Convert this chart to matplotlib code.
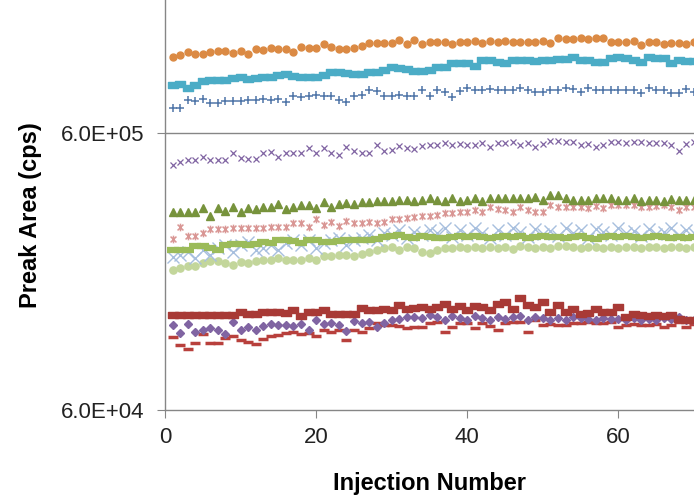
import numpy as np
import matplotlib
matplotlib.use("Agg")
import matplotlib.pyplot as plt
from matplotlib.path import Path
from matplotlib.ticker import FixedLocator, NullLocator

# values in units of 1e5 cps, injections 1..70
injection = np.arange(1, 71)

orange_dots = [11.3, 11.5, 11.8, 11.6, 11.6, 11.8, 11.9, 11.9, 11.7, 11.9,
               11.55, 12.05, 11.96, 12.2, 12.05, 12.05, 11.8, 12.3, 12.2, 12.2,
               12.55, 12.25, 12.05, 12.05, 12.2, 12.35, 12.65, 12.65, 12.65, 12.65,
               13.0, 12.55, 13.0, 12.55, 12.8, 12.8, 12.75, 12.55, 12.8, 12.8,
               12.9, 12.65, 12.9, 12.8, 12.9, 12.8, 12.75, 12.75, 12.8, 12.9,
               12.65, 13.2, 13.1, 13.1, 13.2, 13.1, 13.2, 13.2, 12.8, 12.8,
               12.8, 12.9, 12.45, 12.75, 12.8, 12.55, 12.65, 12.65, 12.55, 12.75]
teal_squares = [8.94, 9.01, 8.70, 8.94, 9.27, 9.32, 9.32, 9.32, 9.44, 9.57,
                9.39, 9.44, 9.57, 9.57, 9.71, 9.78, 9.65, 9.52, 9.52, 9.52,
                9.71, 9.94, 9.94, 9.89, 9.76, 9.76, 9.94, 9.97, 10.13, 10.4,
                10.27, 10.21, 10.02, 10.05, 10.13, 10.4, 10.4, 10.7, 10.7, 10.7,
                10.5, 11.0, 11.0, 10.8, 10.7, 11.0, 11.0, 11.0, 10.9, 11.0,
                11.0, 11.1, 11.1, 11.3, 11.0, 11.0, 10.8, 10.85, 11.15, 11.3,
                11.15, 11.0, 10.85, 11.3, 11.15, 11.15, 10.7, 11.0, 10.95, 10.95]
blue_plus = [7.37, 7.37, 7.90, 7.85, 7.95, 7.69, 7.69, 7.85, 7.85, 7.85,
             7.90, 7.90, 7.95, 7.90, 7.95, 7.77, 8.18, 8.08, 8.13, 8.23,
             8.13, 8.18, 7.90, 7.77, 8.18, 8.23, 8.58, 8.51, 8.18, 8.18,
             8.23, 8.18, 8.18, 8.58, 8.18, 8.58, 8.46, 8.08, 8.51, 8.71,
             8.58, 8.58, 8.66, 8.58, 8.58, 8.58, 8.71, 8.58, 8.46, 8.46,
             8.58, 8.58, 8.71, 8.66, 8.46, 8.71, 8.58, 8.58, 8.58, 8.58,
             8.58, 8.58, 8.39, 8.71, 8.58, 8.58, 8.35, 8.35, 8.66, 8.46]
purple_x = [4.59, 4.73, 4.79, 4.79, 4.92, 4.79, 4.79, 4.81, 5.07, 4.88,
            4.84, 4.84, 5.10, 5.14, 4.92, 5.07, 5.07, 5.07, 5.29, 5.10,
            5.29, 5.07, 5.00, 5.33, 5.18, 5.10, 5.10, 5.43, 5.18, 5.21,
            5.38, 5.29, 5.24, 5.40, 5.43, 5.43, 5.52, 5.43, 5.48, 5.43,
            5.43, 5.52, 5.35, 5.52, 5.52, 5.59, 5.43, 5.52, 5.35, 5.48,
            5.63, 5.63, 5.59, 5.59, 5.43, 5.48, 5.33, 5.43, 5.59, 5.59,
            5.52, 5.59, 5.59, 5.54, 5.52, 5.52, 5.43, 5.18, 5.48, 5.59]
olive_triangles = [3.12, 3.12, 3.12, 3.12, 3.21, 3.01, 3.21, 3.14, 3.24, 3.12,
                   3.21, 3.18, 3.24, 3.24, 3.33, 3.18, 3.24, 3.30, 3.30, 3.21,
                   3.37, 3.24, 3.33, 3.35, 3.33, 3.37, 3.37, 3.40, 3.40, 3.40,
                   3.44, 3.44, 3.40, 3.44, 3.49, 3.44, 3.42, 3.49, 3.42, 3.44,
                   3.49, 3.40, 3.49, 3.49, 3.49, 3.49, 3.49, 3.49, 3.53, 3.44,
                   3.58, 3.58, 3.49, 3.44, 3.44, 3.44, 3.49, 3.49, 3.49, 3.44,
                   3.44, 3.49, 3.42, 3.44, 3.44, 3.42, 3.46, 3.44, 3.44, 3.44]
pink_stars = [2.48, 2.75, 2.55, 2.55, 2.62, 2.70, 2.70, 2.70, 2.72, 2.72,
              2.72, 2.72, 2.72, 2.74, 2.75, 2.75, 2.83, 2.83, 2.75, 2.93,
              2.79, 2.87, 2.77, 2.89, 2.85, 2.85, 2.87, 2.83, 2.87, 2.93,
              2.93, 2.95, 2.98, 3.01, 3.01, 3.04, 3.08, 3.08, 3.12, 3.12,
              3.16, 3.12, 3.24, 3.18, 3.16, 3.10, 3.24, 3.16, 3.12, 3.12,
              3.30, 3.24, 3.24, 3.24, 3.25, 3.21, 3.27, 3.21, 3.30, 3.30,
              3.30, 3.30, 3.25, 3.25, 3.27, 3.30, 3.25, 3.16, 3.25, 3.25]
lightblue_x = [2.14, 2.18, 2.24, 2.12, 2.27, 2.18, 2.31, 2.37, 2.24, 2.37,
               2.43, 2.27, 2.31, 2.37, 2.27, 2.41, 2.47, 2.37, 2.47, 2.31,
               2.41, 2.47, 2.51, 2.37, 2.47, 2.51, 2.57, 2.47, 2.62, 2.57,
               2.68, 2.51, 2.64, 2.57, 2.68, 2.62, 2.73, 2.53, 2.68, 2.57,
               2.73, 2.62, 2.51, 2.68, 2.57, 2.73, 2.64, 2.53, 2.71, 2.60,
               2.66, 2.55, 2.73, 2.62, 2.68, 2.51, 2.71, 2.64, 2.57, 2.73,
               2.62, 2.66, 2.55, 2.71, 2.60, 2.64, 2.73, 2.57, 2.68, 2.62]
green_bars = [2.26, 2.27, 2.27, 2.34, 2.34, 2.31, 2.27, 2.37, 2.39, 2.39,
              2.37, 2.39, 2.43, 2.41, 2.47, 2.47, 2.45, 2.41, 2.47, 2.47,
              2.43, 2.43, 2.45, 2.47, 2.47, 2.47, 2.47, 2.49, 2.53, 2.55,
              2.57, 2.53, 2.51, 2.55, 2.53, 2.51, 2.51, 2.53, 2.55, 2.53,
              2.55, 2.53, 2.51, 2.53, 2.55, 2.53, 2.55, 2.51, 2.53, 2.55,
              2.53, 2.53, 2.51, 2.53, 2.55, 2.51, 2.49, 2.53, 2.55, 2.53,
              2.55, 2.53, 2.51, 2.53, 2.55, 2.53, 2.51, 2.53, 2.51, 2.53]
pale_green_dots = [1.92, 1.96, 1.99, 1.99, 2.04, 2.07, 2.07, 2.04, 2.00, 2.05,
                   2.04, 2.07, 2.09, 2.09, 2.12, 2.09, 2.09, 2.09, 2.12, 2.09,
                   2.15, 2.15, 2.17, 2.17, 2.15, 2.20, 2.23, 2.26, 2.30, 2.32,
                   2.27, 2.32, 2.30, 2.24, 2.22, 2.27, 2.31, 2.31, 2.33, 2.31,
                   2.33, 2.31, 2.33, 2.31, 2.33, 2.29, 2.35, 2.33, 2.31, 2.33,
                   2.31, 2.35, 2.35, 2.33, 2.31, 2.33, 2.33, 2.31, 2.33, 2.31,
                   2.33, 2.33, 2.31, 2.33, 2.33, 2.31, 2.33, 2.33, 2.31, 2.33]
red_squares = [1.32, 1.32, 1.32, 1.32, 1.32, 1.32, 1.32, 1.32, 1.32, 1.35,
               1.33, 1.33, 1.35, 1.35, 1.35, 1.34, 1.38, 1.31, 1.35, 1.35,
               1.38, 1.33, 1.33, 1.33, 1.33, 1.40, 1.38, 1.38, 1.39, 1.38,
               1.44, 1.39, 1.40, 1.41, 1.39, 1.41, 1.45, 1.39, 1.42, 1.38,
               1.42, 1.41, 1.38, 1.45, 1.47, 1.39, 1.52, 1.44, 1.41, 1.47,
               1.36, 1.44, 1.35, 1.39, 1.33, 1.34, 1.39, 1.36, 1.36, 1.41,
               1.30, 1.33, 1.32, 1.31, 1.32, 1.31, 1.32, 1.28, 1.27, 1.27]
purple_diamonds = [1.22, 1.14, 1.23, 1.15, 1.17, 1.19, 1.17, 1.13, 1.25, 1.17,
                   1.20, 1.17, 1.21, 1.23, 1.22, 1.22, 1.21, 1.23, 1.17, 1.27,
                   1.23, 1.24, 1.22, 1.16, 1.26, 1.24, 1.25, 1.20, 1.24, 1.27,
                   1.28, 1.30, 1.30, 1.29, 1.32, 1.30, 1.27, 1.31, 1.29, 1.27,
                   1.31, 1.29, 1.27, 1.30, 1.28, 1.30, 1.31, 1.27, 1.30, 1.29,
                   1.27, 1.29, 1.27, 1.30, 1.29, 1.28, 1.27, 1.29, 1.28, 1.28,
                   1.27, 1.29, 1.27, 1.28, 1.27, 1.29, 1.28, 1.30, 1.27, 1.27]
red_dashes = [1.10, 1.03, 1.00, 1.05, 1.13, 1.05, 1.05, 1.09, 1.11, 1.07,
              1.06, 1.04, 1.08, 1.11, 1.12, 1.14, 1.15, 1.13, 1.14, 1.11,
              1.17, 1.15, 1.17, 1.07, 1.17, 1.15, 1.19, 1.24, 1.22, 1.22,
              1.21, 1.19, 1.20, 1.20, 1.24, 1.25, 1.15, 1.20, 1.24, 1.24,
              1.19, 1.24, 1.21, 1.17, 1.24, 1.25, 1.25, 1.15, 1.27, 1.22,
              1.23, 1.22, 1.22, 1.24, 1.24, 1.25, 1.24, 1.24, 1.25, 1.20,
              1.22, 1.23, 1.22, 1.22, 1.23, 1.20, 1.22, 1.25, 1.20, 1.23]

y_ticks = [6.0e4, 6.0e5]
y_tick_labels = ['6.0E+04', '6.0E+05']
x_ticks = [0, 20, 40, 60]

plt.rcParams['font.family'] = ['Liberation Sans', 'DejaVu Sans']

# excel-like markers: asterisk (x plus vertical stroke) and wide rectangle
star = Path([(-1, -1), (1, 1), (-1, 1), (1, -1), (0, -1.3), (0, 1.3)],
            [Path.MOVETO, Path.LINETO, Path.MOVETO, Path.LINETO,
             Path.MOVETO, Path.LINETO])
rect = Path([(-1, -0.7), (1, -0.7), (1, 0.7), (-1, 0.7), (-1, -0.7)],
            [Path.MOVETO, Path.LINETO, Path.LINETO, Path.LINETO, Path.CLOSEPOLY])

fig = plt.figure(figsize=(6.94, 4.95), dpi=100)
ax = fig.add_axes([0.2378, 0.1717, 0.7622, 0.8283])

scale = 1e5
series = [
    (pale_green_dots, 'o', '#C3D69B', 5.2, {}),
    (lightblue_x, 'x', '#A7BFDE', 9.0, {'markeredgewidth': 1.0}),
    (green_bars, '_', '#9BBB59', 8.0, {'markeredgewidth': 4.5}),
    (pink_stars, star, '#D99694', 5.5, {'markeredgewidth': 1.1}),
    (olive_triangles, '^', '#77933C', 5.5, {}),
    (purple_x, 'x', '#8064A2', 5.0, {'markeredgewidth': 0.9}),
    (blue_plus, '+', '#4F75A8', 6.0, {'markeredgewidth': 1.1}),
    (teal_squares, rect, '#4BACC6', 7.0, {}),
    (orange_dots, 'o', '#DB8A44', 5.0, {}),
    (red_dashes, '_', '#B8403C', 6.5, {'markeredgewidth': 2.5}),
    (purple_diamonds, 'D', '#8064A2', 4.0, {}),
    (red_squares, rect, '#A83A36', 6.8, {}),
]
for vals, mk, col, ms, kw in series:
    ax.plot(injection, np.array(vals) * scale, linestyle='none', marker=mk,
            color=col, markersize=ms, markeredgecolor=col, **kw)

ax.set_yscale('log')
ax.set_xlim(0, 70)
ax.set_ylim(6.0e4, 6.0e5 * 10 ** (133 / 277))
ax.yaxis.set_major_locator(FixedLocator(y_ticks))
ax.yaxis.set_minor_locator(NullLocator())
ax.set_yticklabels(y_tick_labels)
ax.set_xticks(x_ticks)
ax.axhline(6.0e5, color='#868686', linewidth=1.0, zorder=0)

for s in ['top', 'right']:
    ax.spines[s].set_visible(False)
for s in ['left', 'bottom']:
    ax.spines[s].set_color('#868686')
    ax.spines[s].set_linewidth(1.0)
ax.tick_params(axis='both', which='major', color='#868686', length=6,
               labelsize=16, labelcolor='#222222')
ax.tick_params(axis='y', pad=9)
ax.tick_params(axis='x', pad=6)

ax.set_xlabel('Injection Number', fontsize=17, fontweight='bold')
ax.set_ylabel('Preak Area (cps)', fontsize=17, fontweight='bold')
ax.xaxis.set_label_coords(0.5, -0.15)
ax.yaxis.set_label_coords(-0.232, 0.475)

fig.savefig('out.png', dpi=100)
